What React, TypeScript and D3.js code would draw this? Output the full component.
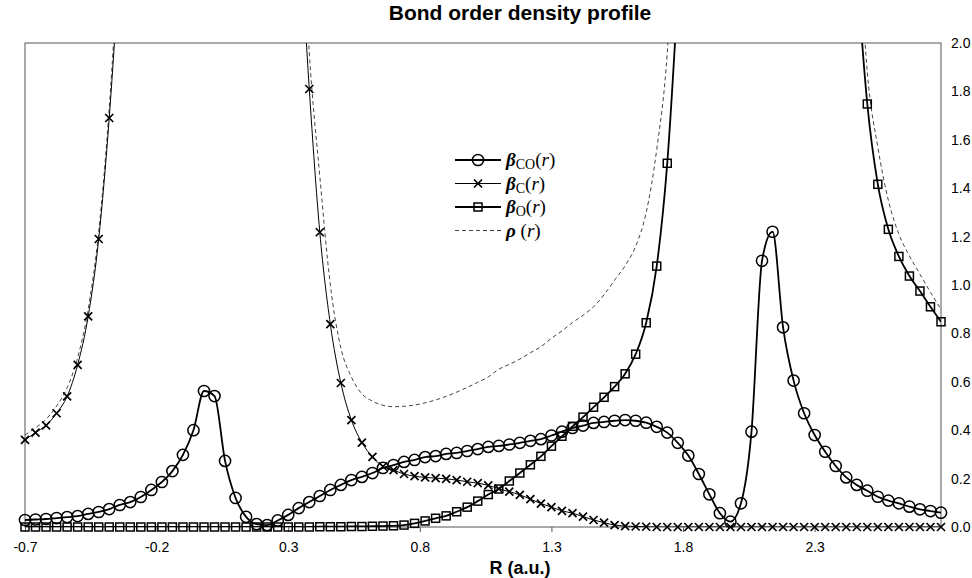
import React, { useEffect, useRef } from 'react';
import * as d3 from 'd3';

// R grid (a.u.), one entry per sampled point
const rValues = [
  -0.70, -0.66, -0.62, -0.58, -0.54, -0.50, -0.46, -0.42, -0.38, -0.34,
  -0.30, -0.26, -0.22, -0.18, -0.14, -0.10, -0.06, -0.02, 0.02, 0.06,
  0.10, 0.14, 0.18, 0.22, 0.26, 0.30, 0.34, 0.38, 0.42, 0.46,
  0.50, 0.54, 0.58, 0.62, 0.66, 0.70, 0.74, 0.78, 0.82, 0.86,
  0.90, 0.94, 0.98, 1.02, 1.06, 1.10, 1.14, 1.18, 1.22, 1.26,
  1.30, 1.34, 1.38, 1.42, 1.46, 1.50, 1.54, 1.58, 1.62, 1.66,
  1.70, 1.74, 1.78, 1.82, 1.86, 1.90, 1.94, 1.98, 2.02, 2.06,
  2.10, 2.14, 2.18, 2.22, 2.26, 2.30, 2.34, 2.38, 2.42, 2.46,
  2.50, 2.54, 2.58, 2.62, 2.66, 2.70, 2.74, 2.78,
];

const betaCO = [
  0.029, 0.031, 0.033, 0.037, 0.041, 0.045, 0.054, 0.062, 0.074, 0.091,
  0.103, 0.124, 0.153, 0.186, 0.231, 0.298, 0.400, 0.562, 0.541, 0.273,
  0.120, 0.042, 0.012, 0.008, 0.027, 0.050, 0.078, 0.103, 0.128, 0.153,
  0.174, 0.194, 0.207, 0.223, 0.244, 0.256, 0.269, 0.277, 0.289, 0.293,
  0.302, 0.306, 0.314, 0.322, 0.331, 0.335, 0.341, 0.348, 0.356, 0.363,
  0.378, 0.394, 0.409, 0.419, 0.430, 0.434, 0.439, 0.442, 0.439, 0.431,
  0.414, 0.390, 0.348, 0.295, 0.219, 0.135, 0.057, 0.022, 0.098, 0.394,
  1.100, 1.220, 0.825, 0.605, 0.470, 0.380, 0.311, 0.252, 0.205, 0.174,
  0.150, 0.125, 0.109, 0.098, 0.084, 0.073, 0.066, 0.059,
];

// null = far above the axis (nuclear region), not drawn
const betaC = [
  0.36, 0.39, 0.42, 0.47, 0.54, 0.67, 0.87, 1.19, 1.69, 2.35,
  null, null, null, null, null, null, null, null, null, null,
  null, null, null, null, null, null, 2.55, 1.81, 1.218, 0.838,
  0.595, 0.442, 0.349, 0.290, 0.250, 0.235, 0.219, 0.210, 0.205, 0.202,
  0.199, 0.194, 0.187, 0.181, 0.172, 0.158, 0.146, 0.133, 0.115, 0.097,
  0.082, 0.067, 0.057, 0.043, 0.029, 0.018, 0.008, 0.004, 0.002, 0.001,
  0, 0, 0, 0, 0, 0, 0, 0, 0, 0,
  0, 0, 0, 0, 0, 0, 0, 0, 0, 0,
  0, 0, 0, 0, 0, 0, 0, 0,
];

const betaO = [
  0, 0, 0, 0, 0, 0, 0, 0, 0, 0,
  0, 0, 0, 0, 0, 0, 0, 0, 0, 0,
  0, 0, 0, 0, 0, 0, 0, 0, 0.001, 0.001,
  0.001, 0.002, 0.002, 0.003, 0.004, 0.005, 0.008, 0.015, 0.025, 0.036,
  0.046, 0.063, 0.082, 0.107, 0.134, 0.157, 0.190, 0.223, 0.257, 0.292,
  0.334, 0.375, 0.416, 0.454, 0.495, 0.536, 0.580, 0.633, 0.714, 0.844,
  1.078, 1.503, 2.2, null, null, null, null, null, null, null,
  null, null, null, null, null, null, null, null, null, 2.3,
  1.748, 1.416, 1.230, 1.118, 1.037, 0.975, 0.910, 0.848,
];

const rho = [
  0.38, 0.41, 0.445, 0.50, 0.575, 0.70, 0.90, 1.22, 1.73, 2.45,
  null, null, null, null, null, null, null, null, null, null,
  null, null, null, null, null, null, 2.8, 1.96, 1.45, 1.00,
  0.74, 0.62, 0.55, 0.52, 0.503, 0.497, 0.499, 0.504, 0.513, 0.525,
  0.54, 0.557, 0.577, 0.598, 0.62, 0.652, 0.672, 0.694, 0.72, 0.745,
  0.78, 0.81, 0.845, 0.875, 0.91, 0.96, 1.02, 1.08, 1.16, 1.30,
  1.56, 1.96, 2.8, null, null, null, null, null, null, null,
  null, null, null, null, null, null, null, null, null, 2.6,
  1.88, 1.57, 1.35, 1.21, 1.12, 1.045, 0.97, 0.90,
];

const xTicks = [-0.7, -0.2, 0.3, 0.8, 1.3, 1.8, 2.3];
const yTicks = [0, 0.2, 0.4, 0.6, 0.8, 1.0, 1.2, 1.4, 1.6, 1.8, 2.0];

const W = 972;
const H = 578;
const plot = { left: 25, right: 941, top: 43, bottom: 527 };

type Marker = 'circle' | 'x' | 'square' | null;

const App = () => {
  const svgRef = useRef<SVGSVGElement>(null);

  useEffect(() => {
    const svg = d3.select(svgRef.current);
    svg.selectAll('*').remove();

    const x = d3.scaleLinear().domain([-0.7, 2.78]).range([plot.left, plot.right]);
    const y = d3.scaleLinear().domain([0, 2]).range([plot.bottom, plot.top]);

    svg.append('defs').append('clipPath').attr('id', 'plotClip')
      .append('rect')
      .attr('x', plot.left).attr('y', plot.top)
      .attr('width', plot.right - plot.left).attr('height', plot.bottom - plot.top);

    // frame
    svg.append('rect')
      .attr('x', plot.left).attr('y', plot.top)
      .attr('width', plot.right - plot.left).attr('height', plot.bottom - plot.top)
      .attr('fill', 'none').attr('stroke', '#555').attr('stroke-width', 1);

    // x axis
    svg.append('g')
      .attr('transform', `translate(0,${plot.bottom})`)
      .call(d3.axisBottom(x).tickValues(xTicks).tickSize(5).tickPadding(10)
        .tickFormat(d => (+d).toFixed(1)))
      .call(g => g.select('.domain').remove())
      .call(g => g.selectAll('.tick line').attr('stroke', '#555'))
      .call(g => g.selectAll('.tick text').attr('fill', '#000')
        .style('font-family', 'Liberation Sans, Arial, sans-serif').style('font-size', '14px'));

    // right y axis
    svg.append('g')
      .attr('transform', `translate(${plot.right},0)`)
      .call(d3.axisRight(y).tickValues(yTicks).tickSize(0).tickPadding(10)
        .tickFormat(d => (+d).toFixed(1)))
      .call(g => g.select('.domain').remove())
      .call(g => g.selectAll('.tick text').attr('fill', '#000')
        .style('font-family', 'Liberation Sans, Arial, sans-serif').style('font-size', '14px'));

    const series: { values: (number | null)[]; width: number; stroke: string; dash?: string; marker: Marker }[] = [
      { values: rho, width: 1, stroke: '#444', dash: '4,3', marker: null },
      { values: betaC, width: 1, stroke: '#000', marker: 'x' },
      { values: betaO, width: 1.8, stroke: '#000', marker: 'square' },
      { values: betaCO, width: 1.8, stroke: '#000', marker: 'circle' },
    ];

    const plotG = svg.append('g').attr('clip-path', 'url(#plotClip)');

    const drawMarker = (g: any, kind: Marker, cx: number, cy: number) => {
      if (kind === 'circle') {
        g.append('circle').attr('cx', cx).attr('cy', cy).attr('r', 5.6)
          .attr('fill', 'none').attr('stroke', '#000').attr('stroke-width', 1.5);
      } else if (kind === 'square') {
        g.append('rect').attr('x', cx - 4).attr('y', cy - 4).attr('width', 8).attr('height', 8)
          .attr('fill', 'none').attr('stroke', '#000').attr('stroke-width', 1.5);
      } else if (kind === 'x') {
        g.append('path').attr('d', `M${cx - 4},${cy - 4}L${cx + 4},${cy + 4}M${cx - 4},${cy + 4}L${cx + 4},${cy - 4}`)
          .attr('stroke', '#000').attr('stroke-width', 1.7).attr('fill', 'none');
      }
    };

    series.forEach(s => {
      const pts = rValues.map((r, i) => ({ r, v: s.values[i] }));
      const line = d3.line<{ r: number; v: number | null }>()
        .defined(d => d.v !== null)
        .x(d => x(d.r))
        .y(d => y(d.v as number))
        .curve(d3.curveMonotoneX);
      plotG.append('path')
        .attr('d', line(pts))
        .attr('fill', 'none')
        .attr('stroke', s.stroke)
        .attr('stroke-width', s.width)
        .attr('stroke-dasharray', s.dash || null);
      if (s.marker) {
        const mg = svg.append('g');
        pts.filter(d => d.v !== null && (d.v as number) <= 2).forEach(d => {
          drawMarker(mg, s.marker, x(d.r), y(d.v as number));
        });
      }
    });

    // legend
    const legendItems: { sub: string; marker: Marker; width: number; dash?: string; label: string }[] = [
      { sub: 'CO', marker: 'circle', width: 1.8, label: 'β' },
      { sub: 'C', marker: 'x', width: 1, label: 'β' },
      { sub: 'O', marker: 'square', width: 1.8, label: 'β' },
      { sub: '', marker: null, width: 1, dash: '4,3', label: 'ρ' },
    ];
    const lg = svg.append('g');
    legendItems.forEach((it, i) => {
      const ly = 160 + i * 23.5;
      lg.append('line').attr('x1', 455).attr('x2', 501).attr('y1', ly).attr('y2', ly)
        .attr('stroke', it.dash ? '#444' : '#000').attr('stroke-width', it.width)
        .attr('stroke-dasharray', it.dash || null);
      drawMarker(lg, it.marker, 478, ly);
      const t = lg.append('text').attr('x', 506).attr('y', ly + 6)
        .style('font-family', 'Liberation Serif, Times New Roman, serif').style('font-size', '19px').attr('fill', '#000');
      t.append('tspan').text(it.label).style('font-style', 'italic').style('font-weight', 'bold');
      if (it.sub) {
        t.append('tspan').text(it.sub).style('font-size', '14px').attr('dy', 3);
        t.append('tspan').text('(').attr('dy', -3);
      } else {
        t.append('tspan').text(' (');
      }
      t.append('tspan').text('r').style('font-style', 'italic');
      t.append('tspan').text(')');
    });

    // title and axis label
    svg.append('text').attr('x', 520).attr('y', 20).attr('text-anchor', 'middle')
      .style('font-family', 'Liberation Sans, Arial, sans-serif').style('font-size', '21px').style('font-weight', 'bold')
      .text('Bond order density profile');
    svg.append('text').attr('x', 520).attr('y', 574).attr('text-anchor', 'middle')
      .style('font-family', 'Liberation Sans, Arial, sans-serif').style('font-size', '18px').style('font-weight', 'bold')
      .text('R (a.u.)');
  }, []);

  return (
    <svg ref={svgRef} width={W} height={H}
      style={{ position: 'absolute', left: 0, top: 0, background: '#fff' }} />
  );
};

export default App;
